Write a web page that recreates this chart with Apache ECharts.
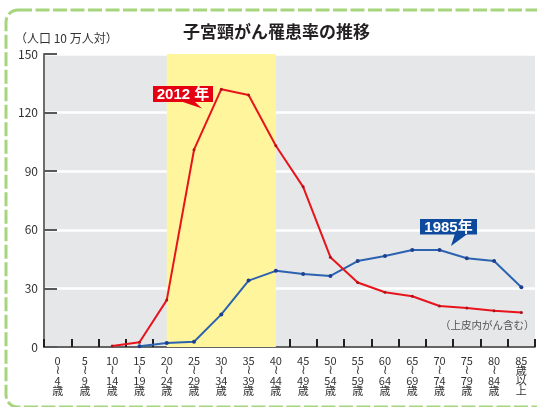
<!DOCTYPE html>
<html>
<head>
<meta charset="utf-8">
<script src="https://cdn.jsdelivr.net/npm/echarts@6/dist/echarts.min.js"></script>
<style>
  html, body { margin: 0; padding: 0; background: #fff; }
  #main { width: 537px; height: 407px; }
</style>
</head>
<body>
<div id="main"></div>
<script>
// 年齢階級（横軸カテゴリ）
const ageGroups = ['0～4歳','5～9歳','10～14歳','15～19歳','20～24歳','25～29歳','30～34歳','35～39歳','40～44歳',
                   '45～49歳','50～54歳','55～59歳','60～64歳','65～69歳','70～74歳','75～79歳','80～84歳','85歳以上'];
// 2012年の罹患率（人口10万人対）
const rate2012 = [null, null, 0.5, 2.4, 24, 101, 132, 129, 103, 82, 46, 33, 28, 26, 21, 20, 18.6, 17.6];
// 1985年の罹患率（人口10万人対）
const rate1985 = [null, null, null, 0.4, 2, 2.7, 16.7, 34, 39, 37.4, 36.4, 44, 46.6, 49.7, 49.7, 45.4, 44, 30.6];
// 縦軸目盛
const yTicks = [0, 30, 60, 90, 120, 150];
// 強調する年齢帯（黄色の帯）
const highlightRange = ['20～24歳', '40～44歳'];

const FONT = '"Noto Sans CJK JP", "Noto Sans", sans-serif';
const BOLD_FONT = '"Liberation Sans", "Noto Sans CJK JP", sans-serif';

// 横軸ラベルを縦書き風に分解
function verticalLabel(s) {
    if (s.indexOf('以上') >= 0) {
        const n = s.replace('歳以上', '');
        return [n, '歳', '以', '上'].join('\n');
    }
    const p = s.replace('歳', '').split('～');
    return [p[0], '{w|≀}', p[1], '歳'].join('\n');
}

const chart = echarts.init(document.getElementById('main'));

const option = {
    animation: false,
    backgroundColor: '#fff',
    title: {
        text: '子宮頸がん罹患率の推移',
        left: 183, top: 23, padding: 0,
        textStyle: { fontFamily: FONT, fontSize: 17, fontWeight: 'bold', color: '#231f20' }
    },
    grid: {
        left: 44, right: 2, top: 54, bottom: 60,
        show: true, backgroundColor: '#e6e7e8', borderWidth: 0
    },
    xAxis: {
        type: 'category',
        data: ageGroups,
        boundaryGap: true,
        axisLine: { lineStyle: { color: '#333', width: 1.5 } },
        axisTick: { show: true, inside: true, length: 8, lineStyle: { color: '#231f20', width: 2 } },
        axisLabel: {
            interval: 0, margin: 9,
            fontFamily: FONT, fontSize: 11, lineHeight: 10, color: '#333',
            formatter: verticalLabel,
            rich: { w: { fontFamily: 'DejaVu Sans', fontSize: 13, lineHeight: 10, color: '#444' } }
        },
        splitLine: { show: false }
    },
    yAxis: {
        type: 'value',
        min: yTicks[0], max: yTicks[yTicks.length - 1], interval: 30,
        axisLine: { show: true, lineStyle: { color: '#6d6e70', width: 2 } },
        axisTick: { show: true, inside: true, length: 13, lineStyle: { color: '#58595b', width: 2 } },
        axisLabel: { margin: 6, fontFamily: FONT, fontSize: 12, color: '#333' },
        splitLine: { show: true, lineStyle: { color: '#ffffff', width: 2.5 } }
    },
    series: [
        {
            name: '1985年', type: 'line', data: rate1985,
            symbol: 'circle', symbolSize: 4, connectNulls: false,
            lineStyle: { color: '#2b63b0', width: 2 },
            itemStyle: { color: '#1d3f8f' },
            z: 3,
            markArea: {
                silent: true,
                itemStyle: { color: '#fff59d' },
                data: [[{ xAxis: highlightRange[0] }, { xAxis: highlightRange[1] }]]
            }
        },
        {
            name: '2012年', type: 'line', data: rate2012,
            symbol: 'circle', symbolSize: 3,
            lineStyle: { color: '#e8141c', width: 2 },
            itemStyle: { color: '#b0101a' },
            z: 4
        }
    ],
    graphic: [
        // 緑の点線枠
        {
            type: 'rect', z: 100, silent: true,
            shape: { x: 6, y: 10, width: 590, height: 397, r: 12 },
            style: { fill: 'none', stroke: '#a5d57c', lineWidth: 3, lineDash: [14, 3.5] }
        },
        // 縦軸単位
        {
            type: 'text', left: 15, top: 32, z: 100,
            style: { text: '（人口 10 万人対）', font: '12px ' + FONT, fill: '#333' }
        },
        // 注記
        {
            type: 'text', left: 440, top: 320, z: 100,
            style: { text: '（上皮内がん含む）', font: '10.5px ' + FONT, fill: '#555' }
        },
        // 2012年 吹き出し
        { type: 'polygon', z: 100, shape: { points: [[180, 101], [194, 101], [202, 108.5]] }, style: { fill: '#e50012' } },
        { type: 'rect', z: 100, shape: { x: 153, y: 86, width: 60, height: 16 }, style: { fill: '#e50012' } },
        { type: 'text', z: 101, x: 183, y: 94.5, style: { text: '2012 年', font: 'bold 15px ' + BOLD_FONT, fill: '#fff', align: 'center', verticalAlign: 'middle' } },
        // 1985年 吹き出し
        { type: 'polygon', z: 100, shape: { points: [[455, 233.5], [468, 233.5], [451, 246]] }, style: { fill: '#0d4a9e' } },
        { type: 'rect', z: 100, shape: { x: 420, y: 219, width: 57, height: 15.5 }, style: { fill: '#0d4a9e' } },
        { type: 'text', z: 101, x: 448.5, y: 227.5, style: { text: '1985年', font: 'bold 15px ' + BOLD_FONT, fill: '#fff', align: 'center', verticalAlign: 'middle' } }
    ]
};

chart.setOption(option);
</script>
</body>
</html>
